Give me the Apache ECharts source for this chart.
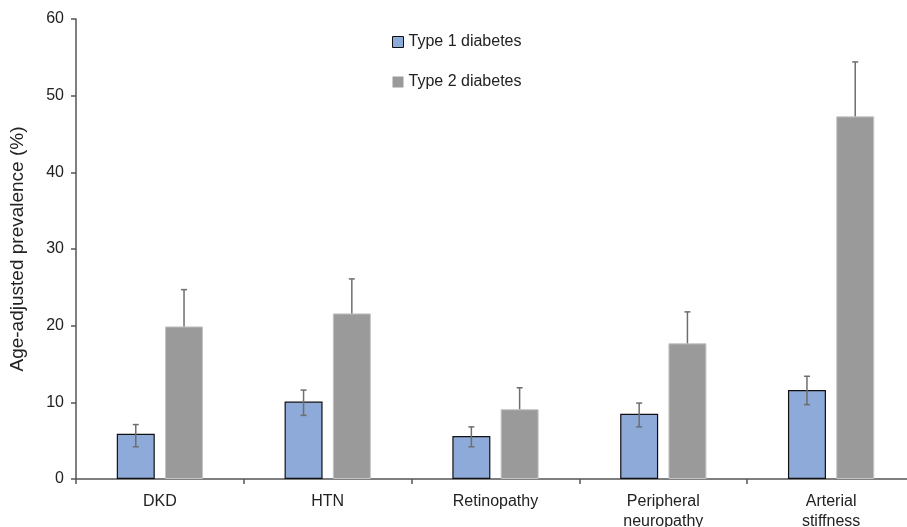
<!DOCTYPE html>
<html>
<head>
<meta charset="utf-8">
<script src="https://cdn.jsdelivr.net/npm/echarts@6/dist/echarts.min.js"></script>
<style>
  html, body { margin: 0; padding: 0; background: #fff; }
  #chart { width: 907px; height: 527px; }
</style>
</head>
<body>
<div id="chart"></div>
<script>
// data
var categories = ['DKD', 'HTN', 'Retinopathy', 'Peripheral\nneuropathy', 'Arterial\nstiffness'];
var type1 = [5.9, 10.1, 5.6, 8.5, 11.6];
var type1Low = [4.2, 8.3, 4.2, 6.8, 9.7];
var type1High = [7.1, 11.6, 6.8, 9.9, 13.4];
var type2 = [19.9, 21.6, 9.1, 17.7, 47.3];
var type2Low = [15.1, 17.1, 6.3, 13.6, 40.2];
var type2High = [24.7, 26.1, 11.9, 21.8, 54.4];
var yTicks = [0, 10, 20, 30, 40, 50, 60];

var BAR_W = 38;
var GAP = 0.27;
var OFFSET = (BAR_W + BAR_W * GAP) / 2;

function errData(low, high) {
  return categories.map(function (c, i) { return [i, low[i], high[i]]; });
}

function errRender(shift, color) {
  return function (params, api) {
    var i = api.value(0);
    var lo = api.coord([i, api.value(1)]);
    var hi = api.coord([i, api.value(2)]);
    var x = lo[0] + shift;
    var cap = 3;
    var st = { stroke: color, lineWidth: 1.5 };
    return {
      type: 'group',
      children: [
        { type: 'line', shape: { x1: x, y1: lo[1], x2: x, y2: hi[1] }, style: st },
        { type: 'line', shape: { x1: x - cap, y1: hi[1], x2: x + cap, y2: hi[1] }, style: st },
        { type: 'line', shape: { x1: x - cap, y1: lo[1], x2: x + cap, y2: lo[1] }, style: st }
      ]
    };
  };
}

var chart = echarts.init(document.getElementById('chart'));
var font = 'Liberation Sans, Arial, sans-serif';
var option = {
  animation: false,
  textStyle: { fontFamily: font },
  legend: {
    orient: 'vertical',
    left: 387,
    top: 29,
    itemWidth: 11,
    itemHeight: 11,
    itemGap: 24,
    textStyle: { fontSize: 16, color: '#222', fontFamily: font },
    data: [
      { name: 'Type 1 diabetes', icon: 'rect', itemStyle: { color: '#8eaad9', borderColor: '#111', borderWidth: 1 } },
      { name: 'Type 2 diabetes', icon: 'rect', itemStyle: { color: '#9a9a9a', borderWidth: 0 } }
    ]
  },
  grid: { left: 76, top: 19, width: 839, height: 460, outerBoundsMode: 'none', containLabel: false },
  xAxis: {
    type: 'category',
    data: categories,
    axisLine: { lineStyle: { color: '#555', width: 1.5 } },
    axisTick: { show: true, length: 5, lineStyle: { color: '#555', width: 1.5 } },
    axisLabel: { fontSize: 16, color: '#222', margin: 13, lineHeight: 20, interval: 0 }
  },
  yAxis: {
    type: 'value',
    min: 0,
    max: 60,
    interval: 10,
    name: 'Age-adjusted prevalence (%)',
    nameLocation: 'middle',
    nameGap: 49,
    nameTextStyle: { fontSize: 19, color: '#222' },
    axisLine: { show: true, lineStyle: { color: '#555', width: 1.5 } },
    axisTick: { show: true, length: 5, lineStyle: { color: '#555', width: 1.5 } },
    axisLabel: {
      fontSize: 16, color: '#222', margin: 12,
      formatter: function (v) { return yTicks.indexOf(v) >= 0 ? String(v) : ''; }
    },
    splitLine: { show: false }
  },
  series: [
    {
      type: 'custom',
      name: 'err2',
      z: 1,
      renderItem: errRender(OFFSET, '#6e6e6e'),
      data: errData(type2Low, type2High),
      silent: true
    },
    {
      name: 'Type 1 diabetes',
      type: 'bar',
      z: 2,
      barWidth: BAR_W,
      barGap: (GAP * 100) + '%',
      itemStyle: { color: '#8eaad9', borderColor: '#111', borderWidth: 1.2 },
      data: type1
    },
    {
      name: 'Type 2 diabetes',
      type: 'bar',
      z: 2,
      barWidth: BAR_W,
      itemStyle: { color: '#9a9a9a', borderColor: '#c4c4c4', borderWidth: 1 },
      data: type2
    },
    {
      type: 'custom',
      name: 'err1',
      z: 3,
      renderItem: errRender(-OFFSET, '#6e6e6e'),
      data: errData(type1Low, type1High),
      silent: true
    }
  ]
};
chart.setOption(option);
</script>
</body>
</html>
